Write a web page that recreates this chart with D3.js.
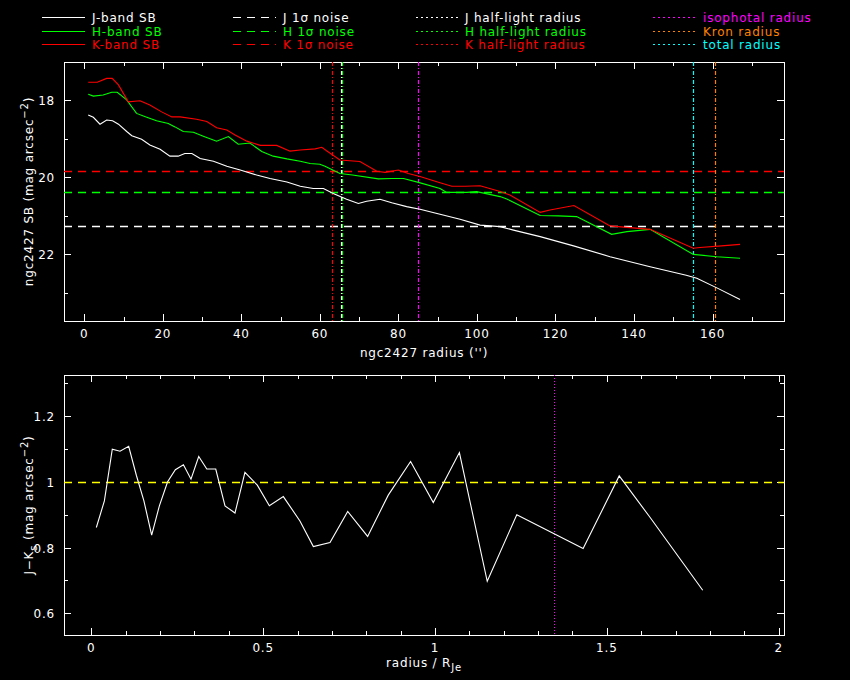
<!DOCTYPE html>
<html><head><meta charset="utf-8">
<script src="https://cdn.jsdelivr.net/npm/d3@7/dist/d3.min.js"></script>
<style>
html,body{margin:0;padding:0;background:#000;}
svg{display:block;}
text{font-family:"DejaVu Sans",sans-serif;font-size:12px;letter-spacing:0.8px;}
</style></head><body>
<svg id="c" width="850" height="680"></svg>
<script>
// ---------- data ----------
const jR  = [1.0,2.3,4.0,5.7,7.2,8.7,10.8,12.1,14.6,16.7,19.3,21.8,23.9,25.6,27.4,29.5,32.9,36.3,39.7,43.9,47.3,51.6,55,58.3,60.9,63.4,66.8,69.8,71.9,75.3,78.3,82.1,85.5,90.6,95.7,100.8,105.9,109.3,116.1,124.6,133.9,144.1,153.3,156,161.1,167];
const jSB = [18.38,18.44,18.62,18.51,18.53,18.62,18.81,18.92,19.01,19.16,19.27,19.45,19.45,19.38,19.38,19.51,19.58,19.71,19.81,19.94,20.03,20.12,20.23,20.29,20.29,20.42,20.57,20.68,20.62,20.57,20.66,20.76,20.83,20.96,21.09,21.24,21.28,21.37,21.54,21.78,22.06,22.32,22.54,22.62,22.87,23.17];
const hR  = [1.0,2.3,4.8,7.0,8.4,10.8,13.3,15.9,18.4,21.4,23.1,25.2,27.8,30.3,33.7,36.7,39.2,42.2,45.2,48.1,51.6,55,57.5,60,61.3,65.1,68.3,74.9,78.3,81.3,85.1,90.6,92.3,97.4,99.9,105.9,107.6,116.1,120.7,125.4,134.3,138.2,144.1,155.1,161.1,167];
const hSB = [17.84,17.89,17.86,17.79,17.79,17.99,18.34,18.44,18.53,18.60,18.69,18.81,18.83,18.93,19.06,18.94,19.14,19.11,19.33,19.45,19.52,19.58,19.64,19.66,19.71,19.90,19.94,20.04,20.03,20.03,20.13,20.29,20.39,20.39,20.37,20.50,20.56,20.99,21.00,21.02,21.48,21.41,21.35,22.00,22.06,22.10];
const kR  = [1.0,3.3,5.7,7.1,8.7,11.2,14.2,16.7,19.7,22.3,24.4,28.6,31.2,33.7,36.3,38.4,41.4,44.8,49,52.4,55,58.8,60.5,61.7,65.1,70.2,74.5,76.6,80,82.5,85.5,90.6,93.6,97,100.8,105.9,108.4,116.1,118.6,124.7,133.9,138.2,144.1,155.1,156.8,162.3,167];
const kSB = [17.53,17.53,17.43,17.43,17.60,18.04,18.01,18.12,18.30,18.43,18.43,18.49,18.55,18.71,18.77,18.90,19.06,19.17,19.17,19.32,19.29,19.26,19.22,19.31,19.55,19.59,19.84,19.87,19.81,19.90,19.98,20.14,20.23,20.23,20.22,20.37,20.46,20.91,20.85,20.73,21.26,21.30,21.35,21.84,21.82,21.78,21.74];

const noiseBands  = ["J","H","K"];
const noiseLevels = [21.26, 20.39, 19.84];
const radiiNames  = ["K half-light","J half-light","H half-light","isophotal","total","Kron"];
const radiiValues = [63.2, 65.5, 65.7, 85.1, 155.1, 160.5];

const jkR = [0.0146,0.038,0.061,0.0835,0.1087,0.131,0.153,0.1756,0.198,0.222,0.2445,0.268,0.290,0.3125,0.336,0.362,0.389,0.418,0.447,0.483,0.518,0.5587,0.607,0.646,0.6945,0.746,0.804,0.864,0.929,0.995,1.071,1.152,1.238,1.431,1.536,1.626,1.779];
const jkColor = [0.861,0.942,1.099,1.093,1.108,1.02,0.942,0.838,0.927,1.0,1.037,1.052,1.008,1.077,1.039,1.039,0.927,0.905,1.029,0.99,0.927,0.955,0.881,0.803,0.815,0.91,0.834,0.9595,1.062,0.937,1.089,0.6975,0.9,0.797,1.018,0.8915,0.670];
const jkRefLevel = 1.0;
const jkMarkerR  = 1.345;

const topXTicks = [0,20,40,60,80,100,120,140,160];
const topYTicks = [18,20,22];
const botXTicks = [0,0.5,1,1.5,2];
const botYTicks = [0.6,0.8,1,1.2];

const legendSB    = ["J-band SB","H-band SB","K-band SB"];
const legendNoise = ["J 1σ noise","H 1σ noise","K 1σ noise"];
const legendHL    = ["J half-light radius","H half-light radius","K half-light radius"];
const legendOther = ["isophotal radius","Kron radius","total radius"];

// ---------- styles ----------
const C = {J:"#ffffff", H:"#00ff00", K:"#ff0000", iso:"#ff00ff", kron:"#ff8000", tot:"#00ffff", yel:"#ffff00"};
const bandCol = [C.J, C.H, C.K];
const radiiCol = [C.K, C.J, C.H, C.iso, C.tot, C.kron];
const DASH = "8,6", DOT = "4,2,1,2";

const svg = d3.select("#c");
svg.append("rect").attr("width",850).attr("height",680).attr("fill","#000");

// ---------- panels ----------
const P1 = {l:64, r:784, t:62, b:321};
const P2 = {l:64, r:784, t:375, b:635};
const x1 = d3.scaleLinear().domain([-5.17,178.2]).range([P1.l,P1.r]);
const y1 = d3.scaleLinear().domain([17.005,23.73]).range([P1.t,P1.b]);
const x2 = d3.scaleLinear().domain([-0.0795,2.0155]).range([P2.l,P2.r]);
const y2 = d3.scaleLinear().domain([1.325,0.534]).range([P2.t,P2.b]);

const defs = svg.append("defs");
defs.append("clipPath").attr("id","cp1").append("rect").attr("x",P1.l).attr("y",P1.t).attr("width",P1.r-P1.l).attr("height",P1.b-P1.t);
defs.append("clipPath").attr("id","cp2").append("rect").attr("x",P2.l).attr("y",P2.t).attr("width",P2.r-P2.l).attr("height",P2.b-P2.t);

function frame(P, xs, ys, xMajor, xMinorStep, yMajor, yMinorStep, fmt){
  const g = svg.append("g");
  const [xa,xb] = xs.domain(); const [ya,yb] = ys.domain();
  const xmin = d3.range(Math.ceil(Math.min(xa,xb)/xMinorStep)*xMinorStep, Math.max(xa,xb)+1e-9, xMinorStep).map(v=>+v.toFixed(6));
  const ymin = d3.range(Math.ceil(Math.min(ya,yb)/yMinorStep)*yMinorStep, Math.max(ya,yb)+1e-9, yMinorStep).map(v=>+v.toFixed(6));
  const isMaj = (v, arr)=>arr.some(a=>Math.abs(a-v)<1e-6);
  const tk = g.append("g").attr("stroke","#fff").attr("stroke-width",1).attr("shape-rendering","crispEdges");
  xmin.forEach(v=>{
    const L = isMaj(v,xMajor)?7:4; const X = Math.round(xs(v))+0.5;
    tk.append("line").attr("x1",X).attr("x2",X).attr("y1",P.b).attr("y2",P.b-L);
    tk.append("line").attr("x1",X).attr("x2",X).attr("y1",P.t).attr("y2",P.t+L);
  });
  ymin.forEach(v=>{
    const L = isMaj(v,yMajor)?7:4; const Y = Math.round(ys(v))+0.5;
    tk.append("line").attr("y1",Y).attr("y2",Y).attr("x1",P.l).attr("x2",P.l+L);
    tk.append("line").attr("y1",Y).attr("y2",Y).attr("x1",P.r).attr("x2",P.r-L);
  });
  g.append("rect").attr("x",P.l+0.5).attr("y",P.t+0.5).attr("width",P.r-P.l).attr("height",P.b-P.t)
    .attr("fill","none").attr("stroke","#fff").attr("stroke-width",1).attr("shape-rendering","crispEdges");
  xMajor.forEach(v=>{
    g.append("text").attr("x",xs(v)).attr("y",P.b+17).attr("text-anchor","middle").attr("fill","#fff").text(fmt(v));
  });
  yMajor.forEach(v=>{
    g.append("text").attr("x",P.l-9).attr("y",ys(v)+5).attr("text-anchor","end").attr("fill","#fff").text(fmt(v));
  });
}
const fmt = v => String(+v.toFixed(2));
frame(P1, x1, y1, topXTicks, 10, topYTicks, 1, fmt);
frame(P2, x2, y2, botXTicks, 0.1, botYTicks, 0.1, fmt);

// ---------- top panel marks ----------
const g1 = svg.append("g").attr("clip-path","url(#cp1)");
noiseLevels.forEach((v,i)=>{
  const Y = Math.round(y1(v))+0.5;
  g1.append("line").attr("x1",P1.l).attr("x2",P1.r).attr("y1",Y).attr("y2",Y)
    .attr("stroke",bandCol[i]).attr("stroke-width",1.3).attr("stroke-dasharray",DASH);
});
radiiValues.forEach((v,i)=>{
  const X = Math.round(x1(v))+0.5;
  g1.append("line").attr("x1",X).attr("x2",X).attr("y1",P1.t).attr("y2",P1.b)
    .attr("stroke",radiiCol[i]).attr("stroke-width",1.2).attr("stroke-dasharray",DOT);
});
const line1 = d3.line().x(d=>x1(d[0])).y(d=>y1(d[1]));
[[jR,jSB,C.J],[hR,hSB,C.H],[kR,kSB,C.K]].forEach(([r,s,c])=>{
  g1.append("path").datum(d3.zip(r,s)).attr("d",line1).attr("fill","none").attr("stroke",c).attr("stroke-width",1.1);
});

// ---------- bottom panel marks ----------
const g2 = svg.append("g").attr("clip-path","url(#cp2)");
{
  const Y = Math.round(y2(jkRefLevel))+0.5;
  g2.append("line").attr("x1",P2.l).attr("x2",P2.r).attr("y1",Y).attr("y2",Y)
    .attr("stroke",C.yel).attr("stroke-width",1.3).attr("stroke-dasharray",DASH);
  const X = Math.round(x2(jkMarkerR))+0.5;
  g2.append("line").attr("x1",X).attr("x2",X).attr("y1",P2.t).attr("y2",P2.b)
    .attr("stroke",C.iso).attr("stroke-width",1).attr("stroke-dasharray","1,2");
}
const line2 = d3.line().x(d=>x2(d[0])).y(d=>y2(d[1]));
g2.append("path").datum(d3.zip(jkR,jkColor)).attr("d",line2).attr("fill","none").attr("stroke","#fff").attr("stroke-width",1.1);

// ---------- axis titles ----------
svg.append("text").attr("x",(P1.l+P1.r)/2).attr("y",357).attr("text-anchor","middle").attr("fill","#fff").text("ngc2427 radius ('')");
{
  const t = svg.append("text").attr("transform",`translate(33,${(P1.t+P1.b)/2}) rotate(-90)`).attr("text-anchor","middle").attr("fill","#fff");
  t.append("tspan").text("ngc2427 SB (mag arcsec");
  t.append("tspan").attr("dy",-5).attr("font-size",10).text("−2");
  t.append("tspan").attr("dy",5).text(")");
}
{
  const t = svg.append("text").attr("x",(P2.l+P2.r)/2).attr("y",667).attr("text-anchor","middle").attr("fill","#fff");
  t.append("tspan").text("radius / R");
  t.append("tspan").attr("dy",4).attr("font-size",10).text("Je");
}
{
  const t = svg.append("text").attr("transform",`translate(33,${(P2.t+P2.b)/2}) rotate(-90)`).attr("text-anchor","middle").attr("fill","#fff");
  t.append("tspan").text("J−K");
  t.append("tspan").attr("dy",4).attr("font-size",10).text("s");
  t.append("tspan").attr("dy",-4).text(" (mag arcsec");
  t.append("tspan").attr("dy",-5).attr("font-size",10).text("−2");
  t.append("tspan").attr("dy",5).text(")");
}

// ---------- legend ----------
const rowsY = [17,31,44];
const legendCols = [
  {lx:42, tx:92, labels:legendSB,   cols:bandCol, dash:null},
  {lx:233,tx:283,labels:legendNoise,cols:bandCol, dash:DASH},
  {lx:416,tx:465,labels:legendHL,   cols:bandCol, dash:"1.5,3.5"},
  {lx:653,tx:703,labels:legendOther,cols:[C.iso,C.kron,C.tot], dash:"1.5,3.5"}
];
legendCols.forEach(col=>{
  col.labels.forEach((lab,i)=>{
    const Y = rowsY[i]+0.5;
    const ln = svg.append("line").attr("x1",col.lx).attr("x2",col.lx+43).attr("y1",Y).attr("y2",Y)
      .attr("stroke",col.cols[i]).attr("stroke-width",1.3).attr("shape-rendering","crispEdges");
    if(col.dash) ln.attr("stroke-dasharray",col.dash);
    svg.append("text").attr("x",col.tx).attr("y",rowsY[i]+4.5).attr("fill",col.cols[i]).text(lab);
  });
});
</script></body></html>
